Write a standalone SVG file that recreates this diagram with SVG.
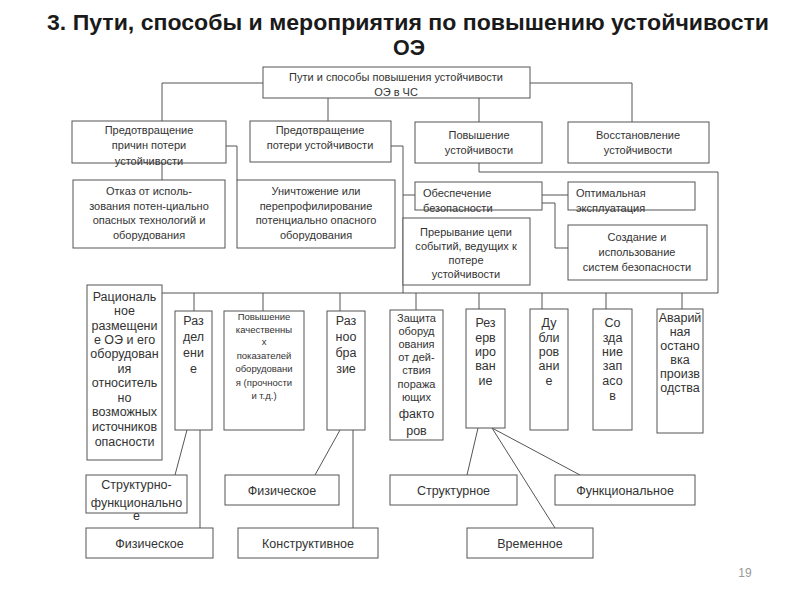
<svg xmlns="http://www.w3.org/2000/svg" width="800" height="600" viewBox="0 0 800 600">
<style>
.b{fill:#fff;stroke:#555;stroke-width:1}
.t{font-family:"Liberation Sans",Arial,sans-serif;font-size:11px;fill:#333;text-anchor:middle}
.m{font-size:12.5px}
.s{font-size:9.5px}
.l{text-anchor:start}
.c{fill:none;stroke:#555;stroke-width:1}
.title{font-family:"Liberation Sans",Arial,sans-serif;font-size:22px;font-weight:bold;fill:#1a1a1a;text-anchor:middle}
</style>
<rect width="800" height="600" fill="#fff"/>
<text class="title" x="408" y="30" textLength="722" lengthAdjust="spacingAndGlyphs">3. Пути, способы и мероприятия по повышению устойчивости</text>
<text class="title" x="409" y="55" textLength="32" lengthAdjust="spacingAndGlyphs">ОЭ</text>

<g id="connectors" class="c">
<polyline points="263,83 162,83 162,121"/>
<polyline points="530,83 632,83 632,122"/>
<line x1="328" y1="98" x2="328" y2="121"/>
<line x1="479" y1="98" x2="479" y2="122"/>
<polyline points="226,146 237,146 237,180"/>
<line x1="162" y1="163" x2="162" y2="180"/>
<polyline points="391,146 403,146 403,293"/>
<line x1="403" y1="195" x2="415" y2="195"/>
<polyline points="479,163 479,172 718,172 718,293"/>
<line x1="542" y1="195" x2="568" y2="195"/>
<polyline points="542,203 555,203 555,248 568,248"/>
<line x1="162" y1="293" x2="718" y2="293"/>
<line x1="194" y1="293" x2="194" y2="311"/>
<line x1="263" y1="293" x2="263" y2="311"/>
<line x1="340" y1="293" x2="340" y2="311"/>
<line x1="416" y1="293" x2="416" y2="310"/>
<line x1="479" y1="293" x2="479" y2="309"/>
<line x1="542" y1="293" x2="542" y2="309"/>
<line x1="606" y1="293" x2="606" y2="309"/>
<line x1="682" y1="293" x2="682" y2="309"/>
<line x1="187" y1="430" x2="175" y2="475"/>
<line x1="200" y1="430" x2="200" y2="528"/>
<line x1="340" y1="430" x2="315" y2="475"/>
<line x1="353" y1="430" x2="353" y2="528"/>
<line x1="478" y1="428" x2="467" y2="475"/>
<line x1="492" y1="428" x2="555" y2="528"/>
<line x1="492" y1="428" x2="580" y2="475"/>
</g>

<g id="root"><rect class="b" x="263" y="67" width="267" height="31"/>
<text class="t" x="396" y="81">Пути и способы повышения устойчивости</text><text class="t" x="396" y="96">ОЭ в ЧС</text></g>

<g id="n_a"><rect class="b" x="72" y="121" width="154" height="42"/>
<text class="t" x="149" y="134">Предотвращение</text><text class="t" x="149" y="149">причин потери</text><text class="t" x="149" y="165">устойчивости</text></g>
<g id="n_b"><rect class="b" x="250" y="121" width="141" height="41"/>
<text class="t" x="320" y="134">Предотвращение</text><text class="t" x="320" y="149">потери устойчивости</text></g>
<g id="n_c"><rect class="b" x="415" y="122" width="127" height="41"/>
<text class="t" x="479" y="139">Повышение</text><text class="t" x="479" y="154">устойчивости</text></g>
<g id="n_d"><rect class="b" x="568" y="122" width="141" height="41"/>
<text class="t" x="638" y="139">Восстановление</text><text class="t" x="638" y="154">устойчивости</text></g>

<g id="n_otkaz"><rect class="b" x="73" y="180" width="152" height="68"/>
<text class="t" x="149" y="195">Отказ от исполь-</text><text class="t" x="149" y="210">зования потен-циально</text><text class="t" x="149" y="224">опасных технологий и</text><text class="t" x="149" y="239">оборудования</text></g>
<g id="n_unich"><rect class="b" x="237" y="180" width="158" height="68"/>
<text class="t" x="316" y="195">Уничтожение или</text><text class="t" x="316" y="210">перепрофилирование</text><text class="t" x="316" y="224">потенциально опасного</text><text class="t" x="316" y="239">оборудования</text></g>
<g id="n_obesp"><rect class="b" x="415" y="182" width="127" height="28"/>
<text class="t l" x="423" y="197">Обеспечение</text><text class="t l" x="423" y="212">безопасности</text></g>
<g id="n_optim"><rect class="b" x="568" y="182" width="127" height="28"/>
<text class="t l" x="576" y="197">Оптимальная</text><text class="t l" x="576" y="212">эксплуатация</text></g>
<g id="n_prer"><rect class="b" x="403" y="218" width="127" height="67"/>
<text class="t" x="466" y="236">Прерывание цепи</text><text class="t" x="466" y="250">событий, ведущих к</text><text class="t" x="466" y="264">потере</text><text class="t" x="466" y="278">устойчивости</text></g>
<g id="n_sozd"><rect class="b" x="568" y="225" width="139" height="55"/>
<text class="t" x="637" y="241">Создание и</text><text class="t" x="637" y="256">использование</text><text class="t" x="637" y="271">систем безопасности</text></g>

<g id="n_rac"><rect class="b" x="87" y="285" width="75" height="175"/>
<text class="t m" x="124.5" y="301">Рациональ</text><text class="t m" x="124.5" y="315">ное</text><text class="t m" x="124.5" y="330">размещени</text><text class="t m" x="124.5" y="344">е ОЭ и его</text><text class="t m" x="124.5" y="358">оборудован</text><text class="t m" x="124.5" y="373">ия</text><text class="t m" x="124.5" y="387">относитель</text><text class="t m" x="124.5" y="402">но</text><text class="t m" x="124.5" y="416">возможных</text><text class="t m" x="124.5" y="431">источников</text><text class="t m" x="124.5" y="446">опасности</text></g>
<g id="n_razd"><rect class="b" x="175" y="311" width="37" height="119"/>
<text class="t m" x="193.5" y="325">Раз</text><text class="t m" x="193.5" y="341">дел</text><text class="t m" x="193.5" y="357">ени</text><text class="t m" x="193.5" y="373">е</text></g>
<g id="n_povysh"><rect class="b" x="224" y="311" width="80" height="119"/>
<text class="t s" x="264" y="320">Повышение</text><text class="t s" x="264" y="333">качественны</text><text class="t s" x="264" y="345">х</text><text class="t s" x="264" y="359">показателей</text><text class="t s" x="264" y="372">оборудовани</text><text class="t s" x="264" y="386">я (прочности</text><text class="t s" x="264" y="399">и т.д.)</text></g>
<g id="n_razn"><rect class="b" x="327" y="311" width="38" height="119"/>
<text class="t m" x="346" y="325">Раз</text><text class="t m" x="346" y="341">ноо</text><text class="t m" x="346" y="357">бра</text><text class="t m" x="346" y="373">зие</text></g>
<g id="n_zasch"><rect class="b" x="390" y="310" width="53" height="130"/>
<text class="t" x="416.5" y="322">Защита</text><text class="t" x="416.5" y="335">оборуд</text><text class="t" x="416.5" y="348">ования</text><text class="t" x="416.5" y="361">от дей-</text><text class="t" x="416.5" y="374">ствия</text><text class="t" x="416.5" y="388">поража</text><text class="t" x="416.5" y="401">ющих</text><text class="t m" x="416.5" y="418">факто</text><text class="t m" x="416.5" y="435">ров</text></g>
<g id="n_rez"><rect class="b" x="466" y="309" width="39" height="119"/>
<text class="t m" x="485.5" y="327">Рез</text><text class="t m" x="485.5" y="342">ерв</text><text class="t m" x="485.5" y="356">иро</text><text class="t m" x="485.5" y="370">ван</text><text class="t m" x="485.5" y="385">ие</text></g>
<g id="n_dubl"><rect class="b" x="530" y="309" width="38" height="121"/>
<text class="t m" x="549" y="327">Ду</text><text class="t m" x="549" y="342">бли</text><text class="t m" x="549" y="356">ров</text><text class="t m" x="549" y="370">ани</text><text class="t m" x="549" y="385">е</text></g>
<g id="n_zapas"><rect class="b" x="593" y="309" width="39" height="121"/>
<text class="t m" x="612.5" y="327">Со</text><text class="t m" x="612.5" y="342">зда</text><text class="t m" x="612.5" y="356">ние</text><text class="t m" x="612.5" y="370">зап</text><text class="t m" x="612.5" y="385">асо</text><text class="t m" x="612.5" y="400">в</text></g>
<g id="n_avar"><rect class="b" x="657" y="309" width="46" height="124"/>
<text class="t m" x="680" y="322">Аварий</text><text class="t m" x="680" y="336">ная</text><text class="t m" x="680" y="350">остано</text><text class="t m" x="680" y="364">вка</text><text class="t m" x="680" y="378">произв</text><text class="t m" x="680" y="392">одства</text></g>

<g id="n_strf"><rect class="b" x="86" y="475" width="101" height="38"/>
<text class="t m" x="136.5" y="489">Структурно-</text><text class="t m" x="136.5" y="507">функционально</text><text class="t m" x="136.5" y="520">е</text></g>
<g id="n_fiz1"><rect class="b" x="86" y="528" width="127" height="30"/>
<text class="t m" x="149.5" y="548">Физическое</text></g>
<g id="n_fiz2"><rect class="b" x="225" y="475" width="114" height="30"/>
<text class="t m" x="282" y="495">Физическое</text></g>
<g id="n_konstr"><rect class="b" x="238" y="528" width="140" height="30"/>
<text class="t m" x="308" y="548">Конструктивное</text></g>
<g id="n_struct"><rect class="b" x="390" y="475" width="127" height="30"/>
<text class="t m" x="453.5" y="495">Структурное</text></g>
<g id="n_vrem"><rect class="b" x="467" y="528" width="126" height="30"/>
<text class="t m" x="530" y="548">Временное</text></g>
<g id="n_func"><rect class="b" x="555" y="475" width="140" height="30"/>
<text class="t m" x="625" y="495">Функциональное</text></g>

<text x="745" y="577" font-family="Liberation Sans, Arial, sans-serif" font-size="12" fill="#999" text-anchor="middle">19</text>
</svg>
